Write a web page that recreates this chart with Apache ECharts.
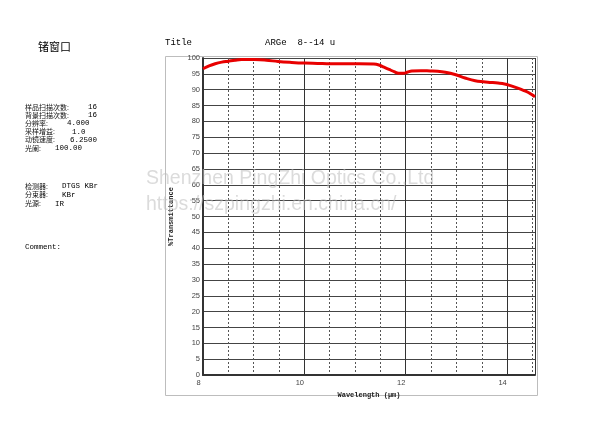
<!DOCTYPE html>
<html>
<head>
<meta charset="utf-8">
<script src="https://cdn.jsdelivr.net/npm/echarts@6/dist/echarts.min.js"></script>
<style>
  html, body { margin: 0; padding: 0; background: #fff; }
  #main { width: 600px; height: 423px; }
</style>
</head>
<body>
<div id="main"></div>
<script>
(function() {

	// 波长 (µm) 与透过率 (%)
	var wavelength = [8.0, 8.12, 8.24, 8.37, 8.5, 8.63, 8.76, 9.02, 9.25, 9.48, 9.75, 10.0, 10.26, 10.52, 10.8, 11.08, 11.37, 11.47, 11.57, 11.67, 11.77, 11.86, 11.96, 12.04, 12.12, 12.3, 12.48, 12.63, 12.78, 12.97, 13.17, 13.37, 13.53, 13.69, 13.82, 13.95, 14.08, 14.21, 14.31, 14.41, 14.5, 14.55];
	var transmittance = [96.6, 97.5, 98.2, 98.7, 99.0, 99.3, 99.5, 99.5, 99.3, 98.9, 98.6, 98.4, 98.3, 98.2, 98.2, 98.2, 98.1, 97.8, 97.1, 96.4, 95.7, 95.2, 95.2, 95.6, 95.9, 96.0, 95.9, 95.8, 95.5, 94.8, 93.7, 92.8, 92.5, 92.3, 92.1, 91.8, 91.2, 90.5, 89.9, 89.2, 88.3, 87.8];

	var yTicks = { min: 0, max: 100, step: 5 };
	var xMajorTicks = { min: 8, max: 14.55, step: 2 };
	var xMinorStep = 0.5;

	var sampleLabels = ['样品扫描次数:', '背景扫描次数:', '分辨率:', '采样增益:', '动镜速度:', '光阑:'];
	var sampleValues = ['16', '16', '4.000', '1.0', '6.2500', '100.00'];
	var sampleValueX = [88, 88, 67, 72, 70, 55];
	var instrumentLabels = ['检测器:', '分束器:', '光源:'];
	var instrumentValues = ['DTGS KBr', 'KBr', 'IR'];
	var instrumentValueX = [62, 62, 55];

	var points = [];
	for (var i = 0; i < wavelength.length; i++) {
		points.push([wavelength[i], transmittance[i]]);
	}

	var cjk = '"Noto Sans CJK SC", "DejaVu Sans", sans-serif';
	var mono = '"Liberation Mono", "DejaVu Sans Mono", monospace';

	var texts = [];
	texts.push({ type: 'text', left: 38, top: 41, style: { text: '锗窗口', font: '11px ' + cjk, fill: '#000' } });
	texts.push({ type: 'text', left: 165, top: 38, style: { text: 'Title', font: '9px ' + mono, fill: '#000' } });
	texts.push({ type: 'text', left: 265, top: 38, style: { text: 'ARGe  8--14 u', font: '9px ' + mono, fill: '#000' } });
	for (var j = 0; j < sampleLabels.length; j++) {
		texts.push({ type: 'text', left: 25, top: 103.5 + j * 8.2, style: { text: sampleLabels[j], font: '7px ' + cjk, fill: '#111' } });
		texts.push({ type: 'text', left: sampleValueX[j], top: 103 + j * 8.2, style: { text: sampleValues[j], font: '7.5px ' + mono, fill: '#000' } });
	}
	for (var k = 0; k < instrumentLabels.length; k++) {
		texts.push({ type: 'text', left: 25, top: 182.5 + k * 8.8, style: { text: instrumentLabels[k], font: '7px ' + cjk, fill: '#111' } });
		texts.push({ type: 'text', left: instrumentValueX[k], top: 182 + k * 8.8, style: { text: instrumentValues[k], font: '7.5px ' + mono, fill: '#000' } });
	}
	texts.push({ type: 'text', left: 25, top: 243, style: { text: 'Comment:', font: '7.5px ' + mono, fill: '#000' } });
	// 外框
	texts.push({ type: 'rect', shape: { x: 165.5, y: 56.5, width: 372, height: 339 }, style: { fill: 'none', stroke: '#bdbdbd', lineWidth: 1 }, z: -1 });
	// 水印
	texts.push({ type: 'text', left: 146, top: 169, z: 100, style: { text: 'Shenzhen PingZhi Optics Co.,Ltd', font: '19.5px "Liberation Sans", sans-serif', fill: 'rgba(190,190,190,0.55)' } });
	texts.push({ type: 'text', left: 146, top: 195, z: 100, style: { text: 'https://szpingzhi.en.china.cn/', font: '19.5px "Liberation Sans", sans-serif', fill: 'rgba(190,190,190,0.55)' } });

	var myChart = echarts.init(document.getElementById('main'));

	var option = {
		animation: false,
		backgroundColor: '#fff',
		grid: { left: 203, right: 65, top: 58, bottom: 48 },
		graphic: texts,
		xAxis: [
			{
				type: 'value',
				min: xMajorTicks.min,
				max: xMajorTicks.max,
				interval: xMinorStep,
				axisLine: { show: true, lineStyle: { color: '#333', width: 2 } },
				axisTick: { show: false },
				axisLabel: { show: false },
				splitLine: { show: true, lineStyle: { color: '#555', type: [2, 2], width: 1 } }
			},
			{
				type: 'value',
				position: 'bottom',
				min: xMajorTicks.min,
				max: xMajorTicks.max,
				interval: xMajorTicks.step,
				name: 'Wavelength (μm)',
				nameLocation: 'middle',
				nameGap: 14,
				nameTextStyle: { fontSize: 7, fontWeight: 'bold', fontFamily: mono, color: '#222' },
				axisLine: { show: false },
				axisTick: { show: false },
				axisLabel: { show: true, showMaxLabel: false, fontSize: 7.5, color: '#444', margin: 4, padding: [0, 9, 0, 0], fontFamily: 'Liberation Sans' },
				splitLine: { show: true, lineStyle: { color: '#333', width: 1 } }
			}
		],
		yAxis: {
			type: 'value',
			min: yTicks.min,
			max: yTicks.max,
			interval: yTicks.step,
			name: '%Transmittance',
			nameLocation: 'middle',
			nameGap: 28,
			nameRotate: 90,
			nameTextStyle: { fontSize: 7, fontWeight: 'bold', fontFamily: mono, color: '#222' },
			axisLine: { show: true, lineStyle: { color: '#333', width: 2 } },
			axisTick: { show: false },
			axisLabel: { fontSize: 7.5, color: '#444', margin: 3, fontFamily: 'Liberation Sans' },
			splitLine: { show: true, lineStyle: { color: '#444', width: 1 } }
		},
		series: [
			{
				type: 'line',
				xAxisIndex: 0,
				data: points,
				smooth: 0.4,
				symbol: 'none',
				lineStyle: { color: '#e80000', width: 3 },
				z: 10
			}
		]
	};

	myChart.setOption(option);

})();
</script>
</body>
</html>
